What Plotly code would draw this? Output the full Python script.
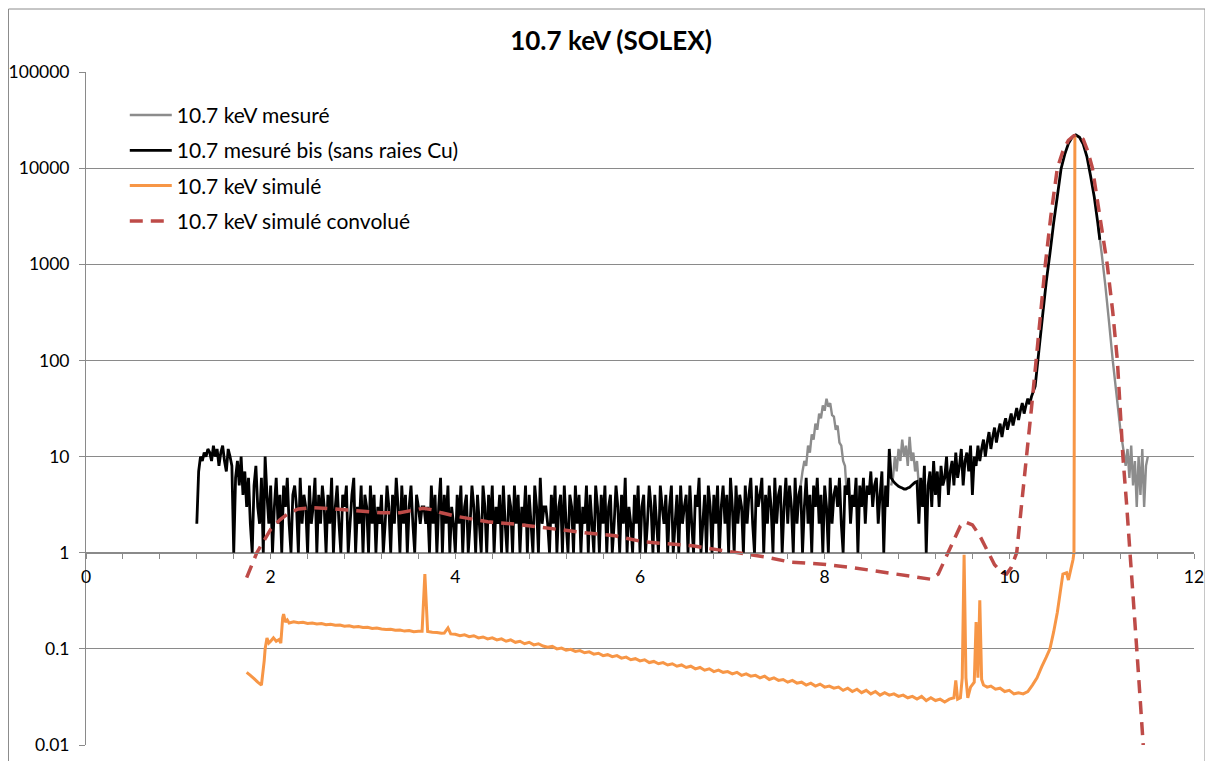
import plotly.graph_objects as go

# ---------------- data ----------------
# "10.7 mesuré bis (sans raies Cu)": channels on a regular energy grid (0.02 keV)
bis_start_keV = 1.20
bis_step_keV = 0.02
bis_counts = [
    2, 7, 10, 9, 11, 10, 12, 11, 9, 13, 10, 12, 8, 11, 13, 9, 7, 12, 10, 8,        # 1.20
    1, 6, 9, 5, 10, 4, 7, 3, 6, 2, 1, 5, 8, 3, 2, 6, 1, 10, 4, 2,                  # 1.60
    5, 1, 3, 6, 2, 4, 1, 5, 3, 6, 2, 1, 4, 5, 3, 1, 6, 2, 4, 3,                    # 2.00
    1, 5, 2, 3, 6, 1, 4, 2, 5, 3, 1, 4, 2, 6, 1, 3, 5, 2, 1, 4,                    # 2.40
    3, 5, 1, 2, 4, 6, 1, 3, 2, 5, 1, 4, 3, 1, 5, 2, 4, 1, 3, 2,                    # 2.80
    4, 1, 2, 5, 3, 1, 4, 2, 6, 3, 1, 5, 2, 4, 1, 3, 5, 2, 1, 4,                    # 3.20
    3, 2, 3, 3, 2, 3, 1, 5, 2, 4, 1, 3, 6, 1, 4, 2, 5, 1, 3, 2,                    # 3.60
    1, 4, 2, 5, 1, 3, 4, 1, 2, 5, 3, 1, 4, 2, 1, 5, 3, 1, 4, 2,                    # 4.00
    5, 1, 3, 2, 4, 1, 5, 2, 1, 4, 3, 1, 5, 2, 4, 1, 3, 2, 5, 1,                    # 4.40
    4, 2, 1, 5, 3, 1, 6, 2, 3, 3, 2, 1, 4, 2, 5, 1, 3, 4, 1, 5,                    # 4.80
    2, 1, 4, 3, 1, 5, 2, 4, 1, 3, 2, 5, 1, 4, 2, 1, 5, 3, 1, 4,                    # 5.20
    2, 5, 1, 3, 4, 1, 2, 5, 3, 1, 4, 2, 6, 1, 3, 2, 1, 4, 2, 5,                    # 5.60
    1, 3, 4, 1, 2, 5, 3, 1, 4, 2, 1, 5, 3, 2, 4, 1, 3, 5, 1, 2,                    # 6.00
    4, 1, 5, 2, 3, 4, 1, 5, 2, 1, 4, 3, 6, 1, 2, 4, 1, 5, 3, 1,                    # 6.40
    4, 2, 5, 1, 3, 5, 2, 4, 1, 6, 3, 1, 5, 2, 4, 3, 1, 5, 2, 4,                    # 6.80
    6, 2, 1, 5, 3, 4, 6, 1, 4, 2, 5, 3, 1, 6, 2, 4, 5, 1, 3, 6,                    # 7.20
    2, 5, 3, 1, 6, 2, 4, 5, 1, 3, 6, 2, 4, 1, 5, 3, 6, 2, 4, 1,                    # 7.60
    5, 3, 1, 6, 2, 4, 5, 3, 6, 2, 1, 5, 4, 6, 2, 4, 3, 6, 1, 5,                    # 8.00
    3, 6, 2, 5, 4, 7, 3, 5, 6, 2, 4, 7, 1, 5, 3, 12, 6, 5.6, 5.3, 5.1,             # 8.40
    4.9, 4.8, 4.7, 4.6, 4.6, 4.7, 4.8, 5.0, 5.2, 5.4, 5.5, 2, 6, 3, 8, 1, 5, 7, 3, 9,  # 8.80
    4, 7, 3, 8, 5, 6, 10, 4, 7, 9, 5, 11, 6, 8, 12, 5, 9, 11, 7, 13,              # 9.20
    4, 10, 8, 13, 9, 12, 15, 10, 14, 18, 12, 16, 20, 14, 18, 22, 16, 21, 25, 19,   # 9.60
    23, 28, 21, 26, 32, 24, 30, 36, 28, 34, 40, 35, 42,                            # 10.00
]
bis_peak_keV = [10.28, 10.32, 10.36, 10.40, 10.44, 10.48, 10.52, 10.56, 10.60, 10.64,
                10.68, 10.72, 10.76, 10.80, 10.84, 10.88, 10.92, 10.96, 10.98]
bis_peak_counts = [54, 126, 290, 660, 1300, 2700, 5100, 9800, 13900, 18000,
                   20900, 22100, 20900, 17800, 13200, 8300, 5000, 2600, 1800]

# "10.7 keV mesuré": parts that differ from the "bis" curve (Cu lines and right tail)
cu_ka_keV = [7.74, 7.76, 7.78, 7.80, 7.82, 7.84, 7.86, 7.88, 7.90, 7.92, 7.94, 7.96, 7.98,
             8.00, 8.02, 8.04, 8.06, 8.08, 8.10, 8.12, 8.14, 8.16, 8.18, 8.20, 8.22, 8.24]
cu_ka_counts = [5, 7, 9, 8, 13, 11, 17, 15, 22, 19, 28, 25, 34, 30, 40, 33, 36, 27, 26,
                19, 21, 14, 13, 9, 8, 4]
cu_kb_keV = [8.72, 8.74, 8.76, 8.78, 8.80, 8.82, 8.84, 8.86, 8.88, 8.90, 8.92, 8.94,
             8.96, 8.98, 9.00, 9.02, 9.04]
cu_kb_counts = [5, 6, 10, 7, 12, 9, 15, 10, 13, 8, 16, 9, 11, 7, 9, 5, 4]
tail_keV = [10.96, 11.00, 11.04, 11.08, 11.12, 11.16, 11.20, 11.24, 11.26, 11.28, 11.30,
            11.32, 11.34, 11.36, 11.38, 11.40, 11.42, 11.44, 11.46, 11.48, 11.50]
tail_counts = [2600, 1300, 600, 250, 100, 45, 20, 11, 8, 12, 6, 13, 5, 9, 3, 10, 4,
               12, 3, 8, 10]

# "10.7 keV simulé"
sim_low_keV = [1.74, 1.78, 1.82, 1.86, 1.90, 1.93, 1.94, 1.96, 1.98, 2.00, 2.03, 2.06,
               2.09, 2.11, 2.13, 2.14, 2.16, 2.18]
sim_low_counts = [0.057, 0.053, 0.049, 0.045, 0.042, 0.075, 0.10, 0.13, 0.115, 0.12,
                  0.13, 0.12, 0.125, 0.115, 0.21, 0.23, 0.19, 0.20]
sim_a_start_keV, sim_step_keV = 2.20, 0.05
sim_a_counts = [0.186, 0.191, 0.187, 0.189, 0.184, 0.186, 0.181, 0.183, 0.178, 0.180,
                0.176, 0.177, 0.172, 0.174, 0.169, 0.171, 0.167, 0.168, 0.163, 0.165,
                0.161, 0.159, 0.160, 0.156, 0.157, 0.153, 0.155, 0.151, 0.152]
sim_mid_keV = [3.64, 3.67, 3.70, 3.75, 3.80, 3.85, 3.88, 3.92, 3.95]
sim_mid_counts = [0.152, 0.60, 0.152, 0.149, 0.148, 0.145, 0.146, 0.165, 0.143]
sim_b_start_keV = 4.00
sim_b_counts = [
    0.142, 0.137, 0.140, 0.134, 0.137, 0.130, 0.133, 0.127, 0.130, 0.124,
    0.127, 0.120, 0.124, 0.117, 0.120, 0.113, 0.117, 0.110, 0.113, 0.107,
    0.104, 0.106, 0.100, 0.102, 0.097, 0.099, 0.094, 0.096, 0.091, 0.093,
    0.088, 0.090, 0.085, 0.087, 0.083, 0.085, 0.080, 0.082, 0.077, 0.079,
    0.075, 0.077, 0.072, 0.074, 0.070, 0.072, 0.068, 0.070, 0.066, 0.068,
    0.064, 0.066, 0.062, 0.064, 0.060, 0.062, 0.058, 0.060, 0.057, 0.058,
    0.055, 0.057, 0.053, 0.055, 0.052, 0.053, 0.050, 0.052, 0.048, 0.050,
    0.047, 0.048, 0.045, 0.047, 0.044, 0.045, 0.042, 0.044, 0.041, 0.043,
    0.040, 0.041, 0.039, 0.040, 0.037, 0.039, 0.036, 0.038, 0.035, 0.037,
    0.034, 0.036, 0.033, 0.035, 0.033, 0.034, 0.032, 0.033, 0.031, 0.032,
    0.030, 0.032, 0.029, 0.031, 0.029, 0.030, 0.028, 0.030,
]
sim_high_keV = [9.40, 9.42, 9.44, 9.47, 9.49, 9.51, 9.53, 9.55, 9.58, 9.62, 9.64, 9.66,
                9.68, 9.70, 9.72, 9.76, 9.80, 9.85, 9.90, 9.95, 10.00, 10.05, 10.10, 10.15,
                10.20, 10.25, 10.30, 10.35, 10.40, 10.44, 10.48, 10.52, 10.55, 10.58,
                10.62, 10.64, 10.67, 10.69, 10.70, 10.71]
sim_high_counts = [0.031, 0.047, 0.030, 0.031, 0.05, 0.95, 0.05, 0.031, 0.040, 0.045,
                   0.19, 0.05, 0.32, 0.048, 0.042, 0.040, 0.041, 0.038, 0.039, 0.036,
                   0.037, 0.034, 0.035, 0.034, 0.036, 0.042, 0.050, 0.065, 0.082, 0.10,
                   0.15, 0.24, 0.38, 0.60, 0.62, 0.52, 0.70, 0.85, 1.0, 22000]

# "10.7 keV simulé convolué"
conv_keV = [1.74, 1.85, 2.00, 2.10, 2.20, 2.30, 2.45, 2.60, 2.80, 3.00, 3.20, 3.40, 3.55,
            3.65, 3.75, 3.85, 4.00, 4.10, 4.35, 4.65, 4.90, 5.15, 5.43, 5.73, 6.03, 6.30,
            6.57, 6.85, 7.12, 7.37, 7.62, 7.98, 8.30, 8.60, 9.00, 9.15, 9.23, 9.30, 9.40,
            9.47, 9.52, 9.60, 9.68, 9.76, 9.84, 9.92, 9.97, 10.02, 10.08, 10.13, 10.19,
            10.24, 10.29, 10.34, 10.39, 10.45, 10.52, 10.58, 10.64, 10.70, 10.75, 10.80,
            10.85, 10.90, 10.98, 11.06, 11.12, 11.17, 11.20, 11.23, 11.27, 11.31, 11.345,
            11.38, 11.415, 11.45]
conv_counts = [0.55, 1.0, 1.75, 2.2, 2.6, 2.85, 2.95, 2.9, 2.8, 2.7, 2.6, 2.6, 2.8, 2.9,
               2.8, 2.6, 2.4, 2.3, 2.1, 1.98, 1.87, 1.73, 1.6, 1.5, 1.3, 1.25, 1.18, 1.07,
               0.98, 0.9, 0.8, 0.76, 0.7, 0.63, 0.55, 0.53, 0.6, 0.85, 1.4, 1.9, 2.1,
               1.95, 1.5, 1.05, 0.75, 0.62, 0.6, 0.7, 1.0, 3.0, 10, 32, 100, 320, 1000,
               3200, 10000, 15000, 19500, 21800, 22100, 20000, 15000, 10000, 3200, 1000,
               320, 100, 32, 10, 3.2, 1.0, 0.32, 0.1, 0.032, 0.01]

x_tick_vals = [0, 2, 4, 6, 8, 10, 12]
y_tick_vals = [0.01, 0.1, 1, 10, 100, 1000, 10000, 100000]
y_tick_text = ["0.01", "0.1", "1", "10", "100", "1000", "10000", "100000"]


# ---------------- build ----------------
def grid(start, step, n):
    return [round(start + step * i, 3) for i in range(n)]


bis_x = grid(bis_start_keV, bis_step_keV, len(bis_counts)) + bis_peak_keV
bis_y = bis_counts + bis_peak_counts

mes_x = cu_ka_keV + [None] + cu_kb_keV + [None] + tail_keV
mes_y = cu_ka_counts + [None] + cu_kb_counts + [None] + tail_counts

sim_x = (sim_low_keV + grid(sim_a_start_keV, sim_step_keV, len(sim_a_counts)) + sim_mid_keV
         + grid(sim_b_start_keV, sim_step_keV, len(sim_b_counts)) + sim_high_keV)
sim_y = sim_low_counts + sim_a_counts + sim_mid_counts + sim_b_counts + sim_high_counts

FONT = "Lato, 'Open Sans', sans-serif"
GRID = "#8a8a8a"

# The page body adds an 8 px offset; the layout below compensates for it.
W, H = 1213, 761
PL, PT, PR, PB = 78, 64, 1186, 737          # plot area edges inside the figure (px)
PW, PH = PR - PL, PB - PT

fig = go.Figure()
fig.add_trace(go.Scatter(x=mes_x, y=mes_y, mode="lines", name="10.7 keV mesuré",
                         legendgroup="a", connectgaps=False,
                         line=dict(color="#8c8c8c", width=2.4, simplify=False)))
fig.add_trace(go.Scatter(x=bis_x, y=bis_y, mode="lines", name="10.7 mesuré bis (sans raies Cu)",
                         legendgroup="b", line=dict(color="#000000", width=2.8, simplify=False)))
fig.add_trace(go.Scatter(x=sim_x, y=sim_y, mode="lines", name="10.7 keV simulé",
                         legendgroup="c", line=dict(color="#f79646", width=3, simplify=False)))
fig.add_trace(go.Scatter(x=conv_keV, y=conv_counts, mode="lines", name="10.7 keV simulé convolué",
                         legendgroup="d", line=dict(color="#be4b48", width=3.5, dash="13px,8px")))

fig.update_layout(
    width=W, height=H,
    margin=dict(l=PL, r=W - PR, t=PT, b=H - PB, autoexpand=False),
    paper_bgcolor="white", plot_bgcolor="white",
    font=dict(family=FONT, size=17.5, color="#000000"),
    title=dict(text="<b>10.7 keV (SOLEX)</b>", x=603 / W, xanchor="center",
               y=1 - 33 / H, yanchor="middle",
               font=dict(family=FONT, size=26, color="#000000")),
    showlegend=True,
    legend=dict(x=0.035, y=0.972 - 4 / PH, xanchor="left", yanchor="top",
                bgcolor="rgba(0,0,0,0)", font=dict(family=FONT, size=21, color="#000000"),
                tracegroupgap=5, traceorder="grouped", itemwidth=42),
    xaxis=dict(range=[0, 12], tickvals=x_tick_vals, showgrid=False, zeroline=False,
               automargin=False,
               anchor="free", position=2 / 7, showline=True, linecolor=GRID, linewidth=1,
               ticks="outside", ticklen=5, tickcolor=GRID, ticklabelstandoff=3,
               minor=dict(dtick=0.4, ticks="outside", ticklen=5, tickcolor=GRID, showgrid=False),
               tickfont=dict(family=FONT, size=17.5, color="#000000")),
    yaxis=dict(type="log", range=[-2, 5], tickvals=y_tick_vals, ticktext=y_tick_text,
               automargin=False,
               showgrid=True, gridcolor=GRID, gridwidth=1, zeroline=False,
               showline=True, linecolor=GRID, linewidth=1,
               ticks="outside", ticklen=6, tickcolor=GRID, ticklabelstandoff=6,
               tickfont=dict(family=FONT, size=17.5, color="#000000")),
)

# chart-area border (at the figure's edge, as in the reference)
fig.add_shape(type="rect", xref="paper", yref="paper",
              x0=(0.5 - PL) / PW, x1=(1197 - PL) / PW, y0=-40 / PH, y1=(PB - 1) / PH,
              line=dict(color="#8c8c8c", width=1), fillcolor="rgba(0,0,0,0)", layer="below")

fig.write_html("out.html")
